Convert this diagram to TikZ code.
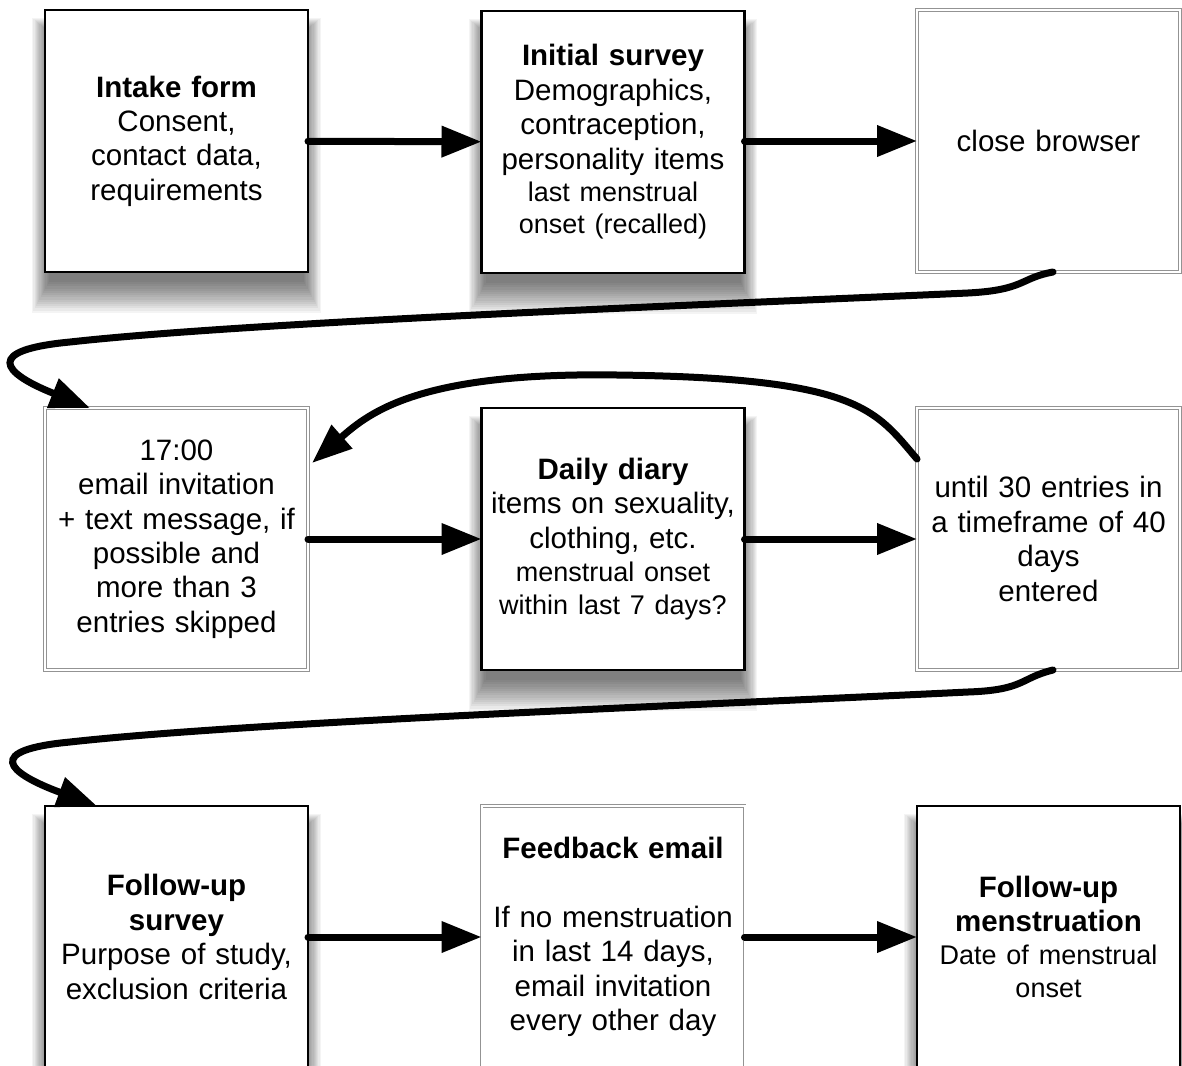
\documentclass[tikz,border=0pt]{standalone}
\usepackage{fontspec}
\setmainfont{Liberation Sans}
\usetikzlibrary{arrows.meta,calc,backgrounds}
\begin{document}
\begin{tikzpicture}[x=1pt,y=-1pt,
  box/.style={minimum width=263pt, minimum height=262pt, inner sep=0pt, outer sep=0pt,
    align=center, text width=255pt, font=\fontsize{29.5}{34.4}\selectfont},
  solidbox/.style={box, draw=black, line width=2.5pt, fill=white},
  thinbox/.style={box, draw=gray!85, double=white, double distance=2pt, line width=0.9pt, fill=white},
  flow/.style={line width=7pt, line cap=round, -{Triangle[length=40pt,width=30pt]}},
  shadowpiece/.style={fill=black, opacity=0.045}
]
\useasboundingbox (0,0) rectangle (1182,1065);

\newcommand{\sm}{\fontsize{27}{32}\selectfont}

% row 1
\node[solidbox] (b1) at (176.5,141) {\textbf{Intake form}\\Consent,\\contact data,\\requirements};
\node[solidbox] (b2) at (613,142) {\textbf{Initial survey}\\Demographics,\\contraception,\\personality items\\[-2pt]{\sm last menstrual}\\[-2pt]{\sm onset (recalled)}};
\node[thinbox] (b3) at (1048.5,141) {close browser};

% row 2
\node[thinbox] (b4) at (176.5,539) {17:00\\email invitation\\+ text message, if\\possible and\\more than 3\\entries skipped};
\node[solidbox] (b5) at (613,539) {\textbf{Daily diary}\\items on sexuality,\\clothing, etc.\\[-1pt]{\sm menstrual onset}\\[-2pt]{\sm within last 7 days?}};
\node[thinbox] (b6) at (1048.5,539) {until 30 entries in\\a timeframe of 40\\days\\entered};

% row 3
\node[solidbox] (b7) at (176.5,937) {\textbf{Follow-up}\\\textbf{survey}\\Purpose of study,\\exclusion criteria};
\node[thinbox] (b8) at (613,937) {\textbf{Feedback email}\\\mbox{}\\If no menstruation\\in last 14 days,\\email invitation\\every other day};
\node[solidbox] (b9) at (1048.5,937) {\textbf{Follow-up}\\[-1pt]\textbf{menstruation}\\[-1pt]{\sm Date of menstrual}\\[-2pt]{\sm onset}};

% soft shadows behind the solid boxes
\begin{scope}[on background layer]
  \fill[white] (0,0) rectangle (1182,1065);
  \foreach \n in {b1,b2,b5,b7,b9} {
    \foreach \r in {0,1,...,14} {
      \fill[shadowpiece] ($(\n.north west)+(4-1.2*\r,22-\r)$) rectangle ($(\n.south east)+(-4+1.2*\r,10+2.2*\r)$);
    }
  }
\end{scope}

% straight arrows
\draw[flow] (b1) -- (b2);
\draw[flow] (b2.east |- b1) -- (b3);
\draw[flow] (b4) -- (b5);
\draw[flow] (b5) -- (b6);
\draw[flow] (b7) -- (b8);
\draw[flow] (b8) -- (b9);

% curved connectors
\coordinate (s1) at ($(b3.south)+(4.5,0)$);
\coordinate (e1) at ($(b4.north west)+(45,0)$);
\draw[flow] (s1) .. controls (1020,278) and (1025,290) .. (968,293)
  .. controls (700,305) and (250,322) .. (70,342)
  .. controls (-15,350) and (0,372) .. (e1);

\coordinate (s2) at ($(b6.north west)+(0,51)$);
\coordinate (e2) at ($(b4.north east)+(4,55)$);
\draw[flow] (s2) .. controls (875,410) and (860,378) .. (617,375)
  .. controls (420,372) and (370,412) .. (e2);

\coordinate (s3) at ($(b6.south)+(4.5,0)$);
\coordinate (e3) at ($(b7.north west)+(52,0)$);
\draw[flow] (s3) .. controls (1020,678) and (1025,690) .. (968,692)
  .. controls (700,705) and (250,722) .. (70,742)
  .. controls (-15,750) and (5,772) .. (e3);
\end{tikzpicture}
\end{document}
